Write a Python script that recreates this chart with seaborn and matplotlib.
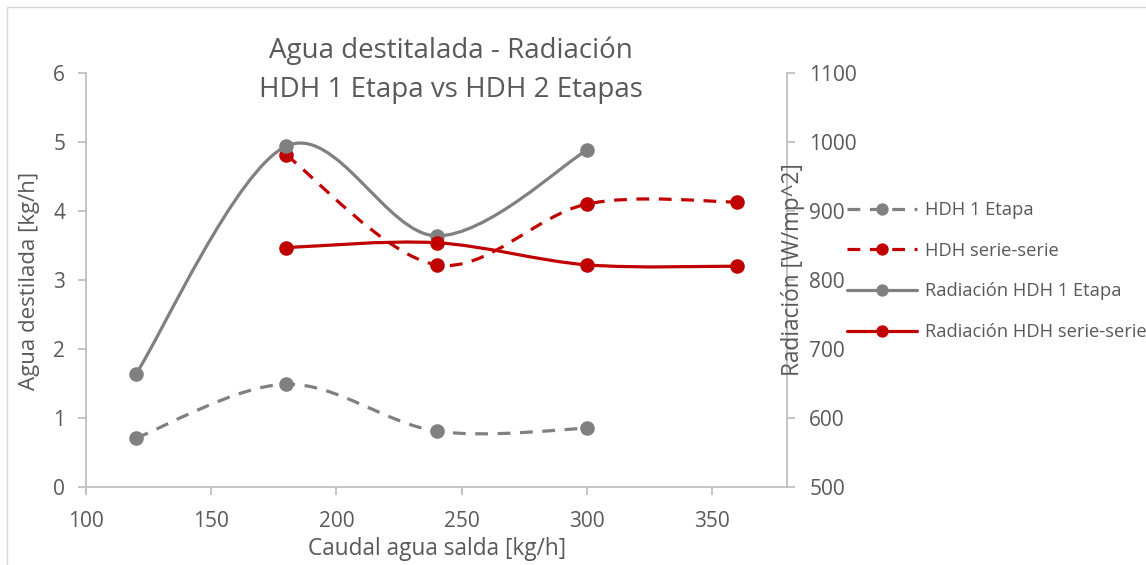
import matplotlib
matplotlib.use("Agg")
import matplotlib.pyplot as plt
import seaborn as sns
import numpy as np
import pandas as pd
from matplotlib.path import Path
from matplotlib.patches import PathPatch, Rectangle
from matplotlib.lines import Line2D

# ---------------- data ----------------
x_1etapa = [120, 180, 240, 300]
agua_1etapa = [0.71, 1.49, 0.81, 0.85]
rad_1etapa = [664, 994, 864, 988]

x_serie = [180, 240, 300, 360]
agua_serie = [4.81, 3.22, 4.10, 4.13]
rad_serie = [847, 854, 822, 820]

series_labels = ["HDH 1 Etapa", "HDH serie-serie",
                 "Radiación HDH 1 Etapa", "Radiación HDH serie-serie"]
title_lines = ["Agua destitalada - Radiación", "HDH 1 Etapa vs HDH 2 Etapas"]
xlabel = "Caudal agua salda [kg/h]"
ylabel_left = "Agua destilada [kg/h]"
ylabel_right = "Radiación [W/mp^2]"
x_ticks = [100, 150, 200, 250, 300, 350]
y_ticks_left = [0, 1, 2, 3, 4, 5, 6]
y_ticks_right = [500, 600, 700, 800, 900, 1000, 1100]

GRAY = "#808080"
RED = "#C00000"
TXT = "#595959"
AXC = "#BFBFBF"

sns.set_theme(style="white")
plt.rcParams["font.family"] = ["Open Sans", "DejaVu Sans"]

fig = plt.figure(figsize=(11.46, 5.65), dpi=100)
ax = fig.add_axes([86 / 1146, 1 - 487 / 565, (787 - 86) / 1146, (487 - 73) / 565])
ax2 = ax.twinx()

# chart-area border (top and left visible)
fig.patches.append(Rectangle((7 / 1146, -0.1), 1.2, 1 - 7 / 565 + 0.1, transform=fig.transFigure,
                             fill=False, edgecolor="#D9D9D9", linewidth=1.0, zorder=0))


def smooth_path(xs, ys):
    pts = np.column_stack([xs, ys]).astype(float)
    n = len(pts)
    verts = [pts[0]]
    codes = [Path.MOVETO]
    for i in range(n - 1):
        p0 = pts[i - 1] if i > 0 else pts[i]
        p1 = pts[i]
        p2 = pts[i + 1]
        p3 = pts[i + 2] if i + 2 < n else pts[i + 1]
        verts += [p1 + (p2 - p0) / 6.0, p2 - (p3 - p1) / 6.0, p2]
        codes += [Path.CURVE4] * 3
    return Path(verts, codes)


LW = 2.3
MS = 10.5
dash = (0, (4, 3))

specs = [
    (ax, x_1etapa, agua_1etapa, GRAY, dash, series_labels[0]),
    (ax, x_serie, agua_serie, RED, dash, series_labels[1]),
    (ax2, x_1etapa, rad_1etapa, GRAY, "solid", series_labels[2]),
    (ax2, x_serie, rad_serie, RED, "solid", series_labels[3]),
]

handles = []
for a, xs, ys, col, ls, lab in specs:
    patch = PathPatch(smooth_path(xs, ys), fill=False, edgecolor=col, linewidth=LW,
                      linestyle=ls, capstyle="butt", zorder=3)
    a.add_patch(patch)
    df = pd.DataFrame({"x": xs, "y": ys})
    sns.scatterplot(data=df, x="x", y="y", ax=a, color=col, s=MS ** 2,
                    edgecolor=col, linewidth=0, zorder=4, legend=False)
    handles.append(Line2D([0], [0], color=col, lw=LW, linestyle=ls, marker="o",
                          markersize=MS * 0.75, label=lab))

for a in (ax, ax2):
    a.set_xlim(100, 380)
    a.set_xlabel("")
    a.set_ylabel("")
    a.patch.set_visible(False)
    for s in a.spines.values():
        s.set_visible(False)

ax.set_ylim(0, 6)
ax2.set_ylim(500, 1100)
ax.set_xticks(x_ticks)
ax.set_yticks(y_ticks_left)
ax2.set_yticks(y_ticks_right)

ax.spines["left"].set_visible(True)
ax.spines["bottom"].set_visible(True)
ax2.spines["right"].set_visible(True)
for s in (ax.spines["left"], ax.spines["bottom"], ax2.spines["right"]):
    s.set_color(AXC)
    s.set_linewidth(1.3)

TICK_FS = 15
ax.tick_params(axis="both", which="major", direction="out", length=6, width=1.3,
               color=AXC, labelcolor=TXT, labelsize=TICK_FS, left=True, bottom=True)
ax.tick_params(axis="x", pad=11)
ax.tick_params(axis="y", pad=9)
ax2.tick_params(axis="y", which="major", direction="out", length=6, width=1.3,
                color=AXC, labelcolor=TXT, labelsize=TICK_FS, right=True, pad=10)
ax.grid(False)
ax2.grid(False)

TITLE_FS = 20
fig.text(451 / 1146, 1 - 51 / 565, title_lines[0], ha="center", va="center",
         fontsize=TITLE_FS, color=TXT)
fig.text(451 / 1146, 1 - 90 / 565, title_lines[1], ha="center", va="center",
         fontsize=TITLE_FS, color=TXT)

LAB_FS = 16.3
fig.text(437 / 1146, 1 - 549 / 565, xlabel, ha="center", va="center", fontsize=LAB_FS, color=TXT)
fig.text(30 / 1146, 1 - 281 / 565, ylabel_left, ha="center", va="center", rotation=90,
         fontsize=16, color=TXT)
fig.text(793 / 1146, 1 - 270 / 565, ylabel_right, ha="center", va="center", rotation=90,
         fontsize=LAB_FS, color=TXT, zorder=1)

leg = fig.legend(handles=handles, loc="upper left", bbox_to_anchor=(847 / 1146, 1 - 201 / 565),
                 frameon=False, fontsize=13.2, handlelength=3.8, handletextpad=0.45,
                 labelspacing=1.24, borderpad=0, borderaxespad=0)
for t in leg.get_texts():
    t.set_color(TXT)

fig.savefig("out.png", dpi=100)
